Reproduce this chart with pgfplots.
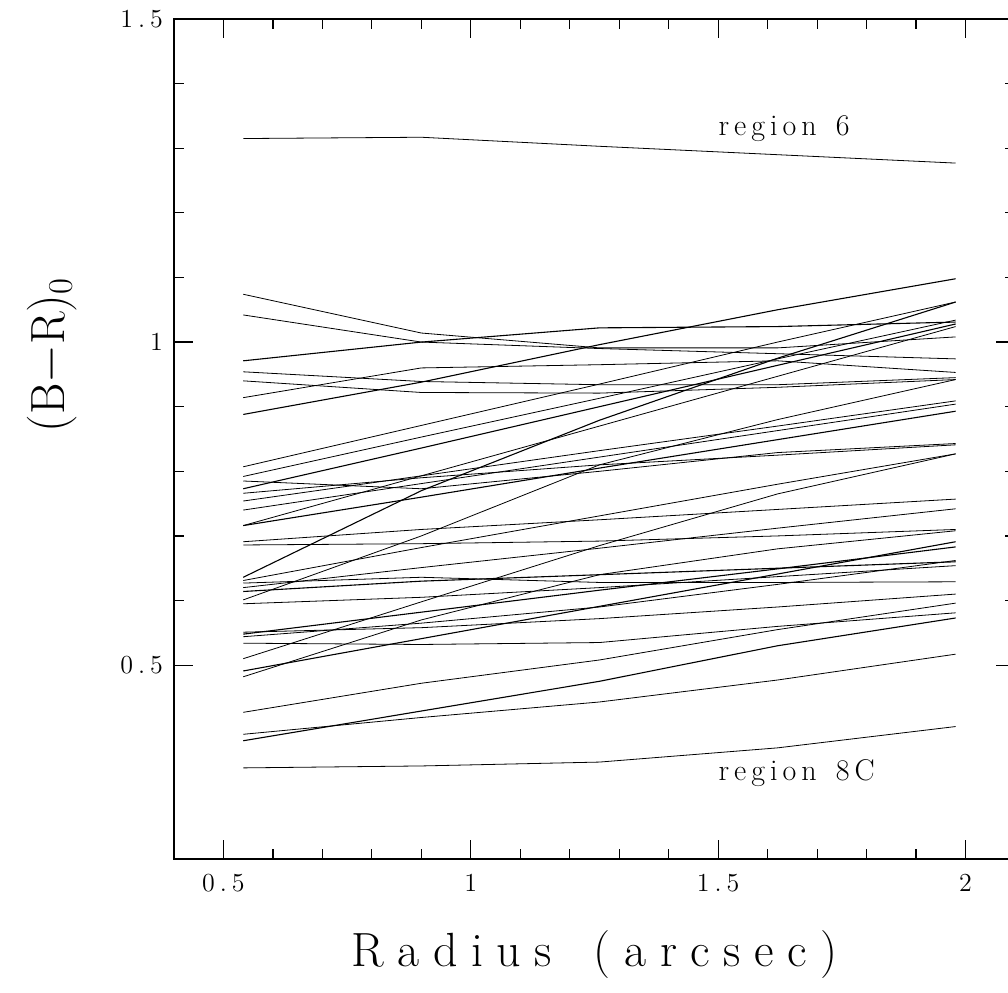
\documentclass[border=0pt]{standalone}
\usepackage{fontspec}
\usepackage{pgfplots}
\pgfplotsset{compat=1.18}
% letter-spaced text, to imitate the wide plotting font
\makeatletter
\newcommand\spaced[2]{\def\spc@k{#1}\@tfor\spc@c:=#2\do{\spc@c\kern\spc@k}\unkern}
\makeatother
\newcommand\tl[1]{\spaced{2.5pt}{#1}}
\begin{document}
\begin{tikzpicture}
\begin{axis}[
  scale only axis, width=420.5pt, height=420pt,
  at={(0pt,0pt)}, anchor=south west,
  xmin=0.4, xmax=2.1, ymin=0.2, ymax=1.5,
  xtick={0.5,1,1.5,2}, ytick={0.5,1,1.5},
  xticklabels={\tl{0.5},\tl{1},\tl{1.5},\tl{2}},
  yticklabels={\tl{0.5},\tl{1},\tl{1.5}},
  minor x tick num=4, minor y tick num=4,
  tick align=inside, major tick length=9.5pt, minor tick length=5pt,
  tick style={black, line width=0.6pt},
  axis line style={black, line width=0.7pt},
  tick label style={font=\fontsize{13}{15}\selectfont},
  xticklabel style={yshift=-4pt},
  yticklabel style={xshift=-2pt},
  xlabel={\spaced{6.8pt}{Radius{\ }(arcsec)}},
  xlabel style={font=\fontsize{24}{28}\selectfont, at={(axis description cs:0.5,-0.128)}, anchor=base},
  ylabel={$(\mathrm{B}{-}\mathrm{R})_0$},
  ylabel style={font=\fontsize{24}{28}\selectfont, at={(axis description cs:-0.145,0.6)}, anchor=center},
  cycle list={{black, solid, mark=none, line width=0.55pt}},
]
\addplot coordinates {(0.54,1.315) (0.90,1.317) (1.26,1.303) (1.62,1.290) (1.98,1.277)};
\addplot coordinates {(0.54,1.074) (0.90,1.014) (1.26,0.991) (1.62,0.991) (1.98,1.008)};
\addplot coordinates {(0.54,1.042) (0.90,1.000) (1.26,0.990) (1.62,0.982) (1.98,0.974)};
\addplot coordinates {(0.54,0.971) (0.90,1.000) (1.26,1.022) (1.62,1.024) (1.98,1.031)};
\addplot coordinates {(0.54,0.954) (0.90,0.939) (1.26,0.934) (1.62,0.934) (1.98,0.945)};
\addplot coordinates {(0.54,0.940) (0.90,0.922) (1.26,0.921) (1.62,0.930) (1.98,0.942)};
\addplot coordinates {(0.54,0.914) (0.90,0.960) (1.26,0.965) (1.62,0.971) (1.98,0.953)};
\addplot coordinates {(0.54,0.888) (0.90,0.938) (1.26,0.996) (1.62,1.050) (1.98,1.098)};
\addplot coordinates {(0.54,0.807) (0.90,0.871) (1.26,0.935) (1.62,1.000) (1.98,1.062)};
\addplot coordinates {(0.54,0.792) (0.90,0.853) (1.26,0.913) (1.62,0.974) (1.98,1.034)};
\addplot coordinates {(0.54,0.785) (0.90,0.773) (1.26,0.800) (1.62,0.829) (1.98,0.843)};
\addplot coordinates {(0.54,0.773) (0.90,0.836) (1.26,0.900) (1.62,0.964) (1.98,1.028)};
\addplot coordinates {(0.54,0.766) (0.90,0.790) (1.26,0.810) (1.62,0.825) (1.98,0.841)};
\addplot coordinates {(0.54,0.754) (0.90,0.793) (1.26,0.832) (1.62,0.870) (1.98,0.909)};
\addplot coordinates {(0.54,0.740) (0.90,0.781) (1.26,0.822) (1.62,0.863) (1.98,0.904)};
\addplot coordinates {(0.54,0.716) (0.90,0.760) (1.26,0.805) (1.62,0.849) (1.98,0.893)};
\addplot coordinates {(0.54,0.716) (0.90,0.793) (1.26,0.870) (1.62,0.947) (1.98,1.024)};
\addplot coordinates {(0.54,0.691) (0.90,0.710) (1.26,0.725) (1.62,0.741) (1.98,0.757)};
\addplot coordinates {(0.54,0.686) (0.90,0.688) (1.26,0.692) (1.62,0.700) (1.98,0.710)};
\addplot coordinates {(0.54,0.636) (0.90,0.770) (1.26,0.879) (1.62,0.975) (1.98,1.062)};
\addplot coordinates {(0.54,0.631) (0.90,0.682) (1.26,0.731) (1.62,0.780) (1.98,0.827)};
\addplot coordinates {(0.54,0.627) (0.90,0.636) (1.26,0.628) (1.62,0.628) (1.98,0.629)};
\addplot coordinates {(0.54,0.620) (0.90,0.651) (1.26,0.681) (1.62,0.712) (1.98,0.742)};
\addplot coordinates {(0.54,0.614) (0.90,0.630) (1.26,0.640) (1.62,0.650) (1.98,0.660)};
\addplot coordinates {(0.54,0.601) (0.90,0.700) (1.26,0.810) (1.62,0.880) (1.98,0.942)};
\addplot coordinates {(0.54,0.595) (0.90,0.605) (1.26,0.620) (1.62,0.637) (1.98,0.654)};
\addplot coordinates {(0.54,0.551) (0.90,0.558) (1.26,0.572) (1.62,0.590) (1.98,0.610)};
\addplot coordinates {(0.54,0.548) (0.90,0.582) (1.26,0.616) (1.62,0.649) (1.98,0.683)};
\addplot coordinates {(0.54,0.544) (0.90,0.565) (1.26,0.590) (1.62,0.625) (1.98,0.662)};
\addplot coordinates {(0.54,0.534) (0.90,0.532) (1.26,0.535) (1.62,0.560) (1.98,0.581)};
\addplot coordinates {(0.54,0.510) (0.90,0.598) (1.26,0.685) (1.62,0.765) (1.98,0.827)};
\addplot coordinates {(0.54,0.491) (0.90,0.541) (1.26,0.591) (1.62,0.641) (1.98,0.691)};
\addplot coordinates {(0.54,0.482) (0.90,0.570) (1.26,0.640) (1.62,0.680) (1.98,0.708)};
\addplot coordinates {(0.54,0.427) (0.90,0.472) (1.26,0.508) (1.62,0.555) (1.98,0.596)};
\addplot coordinates {(0.54,0.393) (0.90,0.419) (1.26,0.443) (1.62,0.477) (1.98,0.517)};
\addplot coordinates {(0.54,0.383) (0.90,0.429) (1.26,0.475) (1.62,0.530) (1.98,0.573)};
\addplot coordinates {(0.54,0.341) (0.90,0.344) (1.26,0.350) (1.62,0.372) (1.98,0.405)};
\node[anchor=base west, inner sep=0pt, font=\fontsize{15}{18}\selectfont] at (axis cs:1.5,1.32) {\spaced{2.5pt}{region{\ }6}};
\node[anchor=base west, inner sep=0pt, font=\fontsize{15}{18}\selectfont] at (axis cs:1.5,0.321) {\spaced{2.5pt}{region{\ }8C}};
\end{axis}
\pgfresetboundingbox
\useasboundingbox (-87pt,-66.5pt) rectangle (417pt,429.5pt);
\end{tikzpicture}
\end{document}
